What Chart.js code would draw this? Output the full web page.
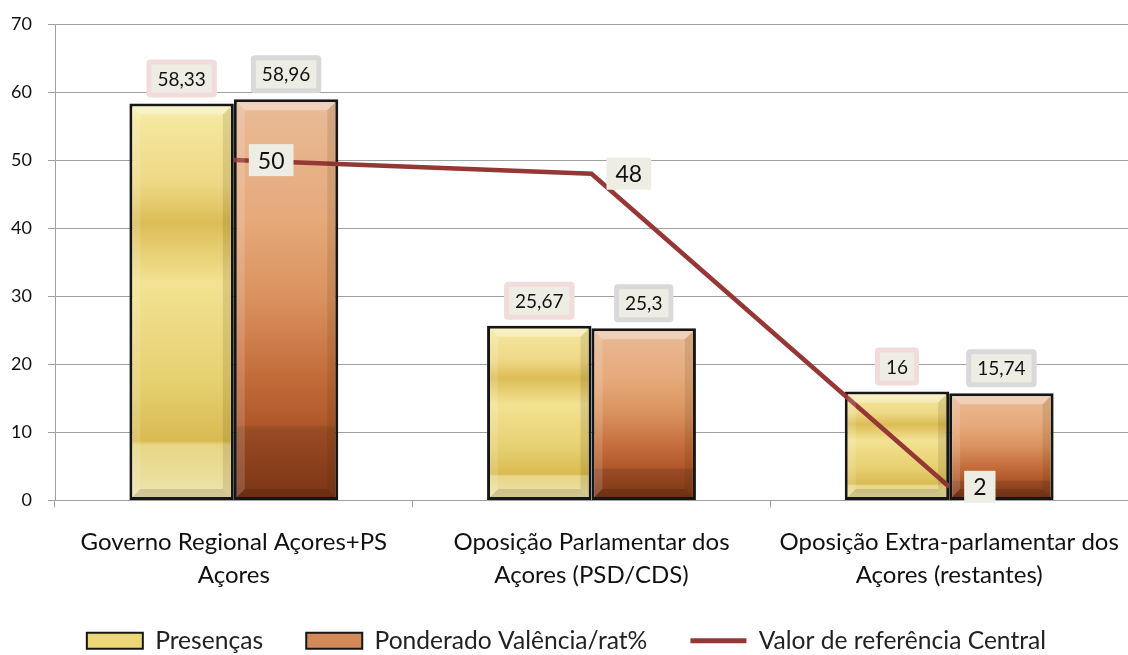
<!DOCTYPE html>
<html>
<head>
<meta charset="utf-8">
<script src="https://cdn.jsdelivr.net/npm/chart.js@4.4.1/dist/chart.umd.min.js"></script>
<style>
  html, body { margin: 0; padding: 0; background: #fff; }
</style>
</head>
<body>
<canvas id="chart" width="1128" height="655"></canvas>
<script>
// chart data
const categories = [
    ['Governo Regional Açores+PS', 'Açores'],
    ['Oposição Parlamentar dos', 'Açores (PSD/CDS)'],
    ['Oposição Extra-parlamentar dos', 'Açores (restantes)']
];
const presencas = [58.33, 25.67, 16];
const ponderado = [58.96, 25.3, 15.74];
const referencia = [50, 48, 2];
const seriesNames = ['Presenças', 'Ponderado Valência/rat%', 'Valor de referência Central'];
const yMin = 0, yMax = 70, yStep = 10;

// colours
const yellowStops = [[0, '#f6eeb0'], [0.05, '#f4e69c'], [0.2, '#eed886'], [0.3, '#dcbd56'], [0.45, '#f2e292'], [0.7, '#e6d070'], [0.85, '#d9ba52'], [0.86, '#e6d684'], [1, '#efe4ae']];
const orangeStops = [[0, '#eabc9c'], [0.05, '#e8b892'], [0.3, '#e6a97a'], [0.5, '#d9915e'], [0.7, '#c26a38'], [0.81, '#b0582a'], [0.82, '#9a4c24'], [1, '#7a3414']];
const lineColor = '#953735';
const labelFill = '#eeede3';

function barGradient(context, stops, fallback) {
    const chart = context.chart;
    if (!chart.chartArea || context.raw == null) return fallback;
    const y = chart.scales.y;
    const top = y.getPixelForValue(context.raw);
    const bottom = y.getPixelForValue(0);
    const g = chart.ctx.createLinearGradient(0, top, 0, bottom);
    stops.forEach(s => g.addColorStop(s[0], s[1]));
    return g;
}

function fmt(v) {
    return String(v).replace('.', ',');
}

function roundBox(ctx, x, y, w, h, r, color) {
    ctx.beginPath();
    ctx.roundRect(x, y, w, h, r);
    ctx.fillStyle = color;
    ctx.fill();
}

// bevel look on the bars
const bevelPlugin = {
    id: 'bevel',
    afterDatasetsDraw(chart) {
        const ctx = chart.ctx;
        const b = 8;
        chart.data.datasets.forEach((ds, i) => {
            if (ds.type === 'line') return;
            chart.getDatasetMeta(i).data.forEach(el => {
                const l = el.x - el.width / 2 + 3, r = el.x + el.width / 2 - 3;
                const t = el.y + 3, bt = el.base - 3;
                ctx.save();
                // top
                ctx.fillStyle = 'rgba(255,255,255,0.35)';
                ctx.beginPath();
                ctx.moveTo(l, t); ctx.lineTo(r, t); ctx.lineTo(r - b, t + b); ctx.lineTo(l + b, t + b); ctx.closePath(); ctx.fill();
                // left
                ctx.fillStyle = 'rgba(255,255,255,0.15)';
                ctx.beginPath();
                ctx.moveTo(l, t); ctx.lineTo(l + b, t + b); ctx.lineTo(l + b, bt - b); ctx.lineTo(l, bt); ctx.closePath(); ctx.fill();
                // right
                ctx.fillStyle = 'rgba(60,40,0,0.12)';
                ctx.beginPath();
                ctx.moveTo(r, t); ctx.lineTo(r - b, t + b); ctx.lineTo(r - b, bt - b); ctx.lineTo(r, bt); ctx.closePath(); ctx.fill();
                // bottom
                ctx.fillStyle = 'rgba(0,0,0,0.12)';
                ctx.beginPath();
                ctx.moveTo(l, bt); ctx.lineTo(r, bt); ctx.lineTo(r - b, bt - b); ctx.lineTo(l + b, bt - b); ctx.closePath(); ctx.fill();
                ctx.restore();
            });
        });
    }
};

// value boxes above bars and next to line points
const valueLabels = {
    id: 'valueLabels',
    afterDraw(chart) {
        const ctx = chart.ctx;
        ctx.save();
        chart.data.datasets.forEach((ds, i) => {
            const meta = chart.getDatasetMeta(i);
            meta.data.forEach((el, j) => {
                const txt = fmt(ds.data[j]);
                if (ds.type === 'line') {
                    ctx.font = '23px Lato';
                    const w = ctx.measureText(txt).width + 18;
                    const h = 32;
                    const x = el.x + 15;
                    const y = el.y - h / 2;
                    ctx.fillStyle = labelFill;
                    ctx.fillRect(x, y, w, h);
                    ctx.fillStyle = '#111';
                    ctx.textAlign = 'center';
                    ctx.textBaseline = 'middle';
                    ctx.fillText(txt, x + w / 2, y + h / 2 + 1);
                } else {
                    ctx.font = '19px Lato';
                    const w = ctx.measureText(txt).width + 22;
                    const h = 38;
                    const x = el.x - w / 2;
                    const y = el.y - 6 - h;
                    roundBox(ctx, x, y, w, h, 4, ds.labelBorder);
                    roundBox(ctx, x + 5, y + 5, w - 10, h - 10, 1, labelFill);
                    ctx.fillStyle = '#111';
                    ctx.textAlign = 'center';
                    ctx.textBaseline = 'middle';
                    ctx.fillText(txt, el.x, y + h / 2 + 1);
                }
            });
        });
        ctx.restore();
    }
};

const legendFills = ['#ecd676', '#d28a58'];

Chart.defaults.font.family = 'Lato';
Chart.defaults.color = '#222';

const chart = new Chart(document.getElementById('chart'), {
    type: 'bar',
    data: {
        labels: categories,
        datasets: [
            {
                label: seriesNames[0],
                data: presencas,
                backgroundColor: c => barGradient(c, yellowStops, '#ecd676'),
                borderColor: '#161616',
                borderWidth: 3,
                borderSkipped: false,
                labelBorder: '#f2dcdb',
                order: 1
            },
            {
                label: seriesNames[1],
                data: ponderado,
                backgroundColor: c => barGradient(c, orangeStops, '#d28a58'),
                borderColor: '#161616',
                borderWidth: 3,
                borderSkipped: false,
                labelBorder: '#d9d9d9',
                order: 1
            },
            {
                type: 'line',
                label: seriesNames[2],
                data: referencia,
                borderColor: lineColor,
                borderWidth: 4.5,
                pointRadius: 0,
                tension: 0,
                order: -1
            }
        ]
    },
    options: {
        responsive: false,
        animation: false,
        layout: { padding: { left: 11, right: 0, top: 24, bottom: -8 } },
        datasets: {
            bar: { categoryPercentage: 0.584, barPercentage: 1 }
        },
        plugins: {
            tooltip: { enabled: false },
            legend: {
                position: 'bottom',
                labels: {
                    usePointStyle: true,
                    pointStyleWidth: 56,
                    boxHeight: 16,
                    padding: 37,
                    font: { size: 24.6 },
                    color: '#222',
                    sort: (a, b) => a.datasetIndex - b.datasetIndex,
                    generateLabels(chart) {
                        return chart.data.datasets.map((ds, i) => ({
                            text: ds.label + '\u2009\u2009',
                            datasetIndex: i,
                            fillStyle: i < 2 ? legendFills[i] : lineColor,
                            strokeStyle: i < 2 ? '#161616' : lineColor,
                            lineWidth: i < 2 ? 2 : 5,
                            pointStyle: i < 2 ? 'rect' : 'line',
                            fontColor: '#222',
                            hidden: false
                        }));
                    }
                }
            }
        },
        scales: {
            x: {
                offset: true,
                grid: {
                    display: true,
                    offset: true,
                    drawOnChartArea: false,
                    color: '#a0a0a0',
                    tickLength: 7
                },
                border: { color: '#a0a0a0' },
                ticks: {
                    font: { size: 24, lineHeight: 1.38 },
                    color: '#111',
                    padding: 18,
                    maxRotation: 0,
                    autoSkip: false
                },
                afterFit(scale) {
                    scale.height = 91;
                    scale.paddingLeft = 0;
                    scale.paddingRight = 0;
                }
            },
            y: {
                min: yMin,
                max: yMax,
                grid: { color: '#a0a0a0', tickLength: 7 },
                border: { color: '#a0a0a0' },
                ticks: {
                    stepSize: yStep,
                    font: { size: 18 },
                    color: '#111',
                    padding: 16
                },
                afterFit(scale) {
                    scale.width = 44;
                    scale.paddingTop = 0;
                    scale.paddingBottom = 0;
                }
            }
        }
    },
    plugins: [bevelPlugin, valueLabels]
});
</script>
</body>
</html>
